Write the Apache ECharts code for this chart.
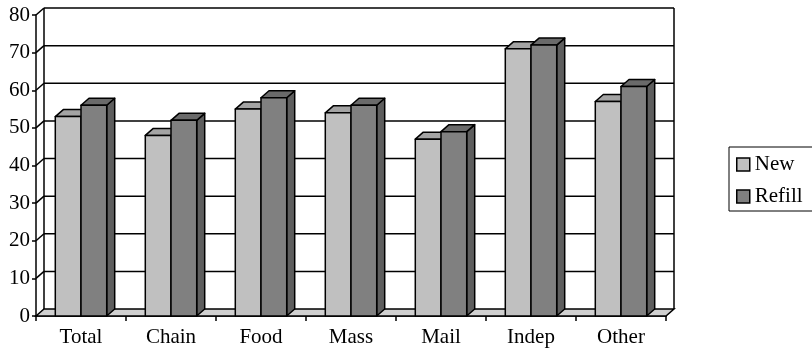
<!DOCTYPE html>
<html>
<head>
<meta charset="utf-8">
<style>
  html, body { margin: 0; padding: 0; background: #fff; }
  #chart { width: 812px; height: 354px; }
</style>
<script src="https://cdn.jsdelivr.net/npm/echarts@6/dist/echarts.min.js"></script>
</head>
<body>
<div id="chart"></div>
<script>
// Categories and values per series
const categories = ['Total', 'Chain', 'Food', 'Mass', 'Mail', 'Indep', 'Other'];
const newValues = [53, 48, 55, 54, 47, 71, 57];
const refillValues = [56, 52, 58, 56, 49, 72, 61];
const tickValues = [0, 10, 20, 30, 40, 50, 60, 70, 80];

// Pseudo-3D depth offset (pixels)
const DX = 8, DY = 7;
const FONT = 'Liberation Serif';

const faces = {
  New: { front: '#c0c0c0', top: '#a4a4a4', side: '#8c8c8c' },
  Refill: { front: '#808080', top: '#6a6a6a', side: '#5e5e5e' }
};

function barRenderer(seriesIndex, palette) {
  return function (params, api) {
    const idx = api.value(0);
    const top = api.coord([idx, api.value(1)]);
    const base = api.coord([idx, 0]);
    const bw = api.size([1, 0])[0] * 0.2856;
    const xl = seriesIndex === 0 ? top[0] - bw : top[0];
    const xr = xl + bw;
    const yt = top[1], yb = base[1];
    const stroke = { stroke: '#000', lineWidth: 1.5, lineJoin: 'round' };
    return {
      type: 'group',
      children: [
        { type: 'polygon', shape: { points: [[xr, yt], [xr + DX, yt - DY], [xr + DX, yb - DY], [xr, yb]] },
          style: Object.assign({ fill: palette.side }, stroke) },
        { type: 'polygon', shape: { points: [[xl, yt], [xr, yt], [xr + DX, yt - DY], [xl + DX, yt - DY]] },
          style: Object.assign({ fill: palette.top }, stroke) },
        { type: 'rect', shape: { x: xl, y: yt, width: bw, height: yb - yt },
          style: Object.assign({ fill: palette.front }, stroke) }
      ]
    };
  };
}

// Back wall gridlines, side wall diagonals and floor
function wallRenderer(params, api) {
  const cs = params.coordSys;
  const x0 = cs.x, x1 = cs.x + cs.width;
  const v = api.value(0);
  const y = api.coord([0, v])[1];
  const line = { stroke: '#000', lineWidth: 1.5, fill: null };
  const children = [];
  if (v === tickValues[0]) {
    children.push({ type: 'polygon',
      shape: { points: [[x0, y], [x1, y], [x1 + DX, y - DY], [x0 + DX, y - DY]] },
      style: { fill: '#cfcfcf', stroke: '#000', lineWidth: 1.5 } });
    // back-left and back-right vertical edges of the wall
    const yTop = api.coord([0, tickValues[tickValues.length - 1]])[1];
    children.push({ type: 'line', shape: { x1: x0 + DX, y1: y - DY, x2: x0 + DX, y2: yTop - DY }, style: line });
    children.push({ type: 'line', shape: { x1: x1 + DX, y1: y - DY, x2: x1 + DX, y2: yTop - DY }, style: line });
  } else {
    children.push({ type: 'line', shape: { x1: x0, y1: y, x2: x0 + DX, y2: y - DY }, style: line });
    children.push({ type: 'line', shape: { x1: x0 + DX, y1: y - DY, x2: x1 + DX, y2: y - DY }, style: line });
  }
  return { type: 'group', children: children };
}

const iconBorder = { borderColor: '#000', borderWidth: 1.5 };

const chart = echarts.init(document.getElementById('chart'), null, { renderer: 'canvas' });
chart.setOption({
  animation: false,
  backgroundColor: '#fff',
  textStyle: { fontFamily: FONT },
  grid: { left: 36, right: 146, top: 15, bottom: 38, containLabel: false },
  legend: {
    orient: 'vertical',
    left: 729, top: 147,
    padding: [7, 12, 4, 7],
    itemGap: 11,
    itemWidth: 13, itemHeight: 13,
    icon: 'rect',
    backgroundColor: '#fff',
    borderColor: '#000', borderWidth: 1,
    itemStyle: iconBorder,
    textStyle: { fontFamily: FONT, fontSize: 21, color: '#000', lineHeight: 20 },
    data: [
      { name: 'New', icon: 'rect', itemStyle: Object.assign({ color: faces.New.front }, iconBorder) },
      { name: 'Refill', icon: 'rect', itemStyle: Object.assign({ color: faces.Refill.front }, iconBorder) }
    ]
  },
  xAxis: {
    type: 'category',
    data: categories,
    boundaryGap: true,
    axisLine: { show: true, lineStyle: { color: '#000', width: 1.5 } },
    axisTick: { show: true, length: 5, lineStyle: { color: '#000', width: 1.5 } },
    axisLabel: { color: '#000', fontFamily: FONT, fontSize: 21, margin: 11 },
    splitLine: { show: false }
  },
  yAxis: {
    type: 'value',
    min: tickValues[0],
    max: tickValues[tickValues.length - 1],
    interval: tickValues[1] - tickValues[0],
    axisLine: { show: true, lineStyle: { color: '#000', width: 1.5 } },
    axisTick: { show: true, length: 4, lineStyle: { color: '#000', width: 1.5 } },
    axisLabel: { color: '#000', fontFamily: FONT, fontSize: 21, margin: 6 },
    splitLine: { show: false }
  },
  series: [
    {
      name: 'walls', type: 'custom', z: 1, silent: true,
      renderItem: wallRenderer,
      encode: { y: 0 },
      data: tickValues.map(v => [v])
    },
    {
      name: 'New', type: 'custom', z: 2,
      itemStyle: { color: faces.New.front, borderColor: '#000', borderWidth: 1.5 },
      renderItem: barRenderer(0, faces.New),
      encode: { x: 0, y: 1 },
      data: newValues.map((v, i) => [i, v])
    },
    {
      name: 'Refill', type: 'custom', z: 3,
      itemStyle: { color: faces.Refill.front, borderColor: '#000', borderWidth: 1.5 },
      renderItem: barRenderer(1, faces.Refill),
      encode: { x: 0, y: 1 },
      data: refillValues.map((v, i) => [i, v])
    }
  ]
});
</script>
</body>
</html>
